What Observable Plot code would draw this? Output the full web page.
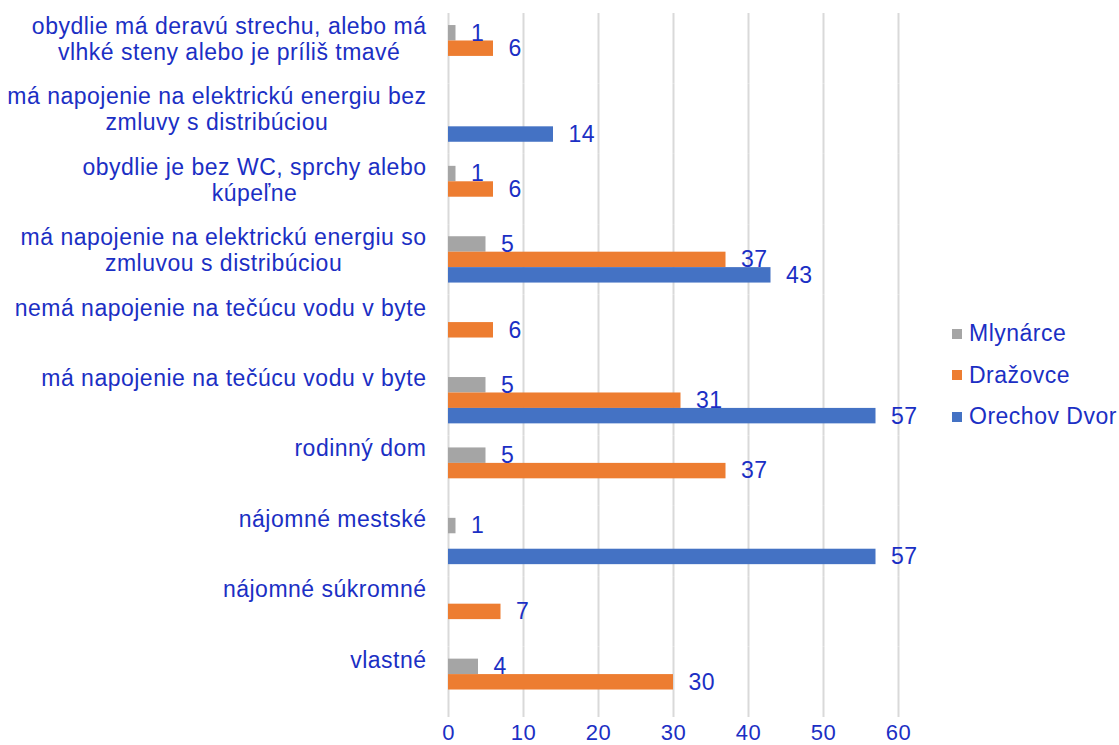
<!DOCTYPE html>
<html><head><meta charset="utf-8">
<script src="https://cdn.jsdelivr.net/npm/d3@7"></script>
<script src="https://cdn.jsdelivr.net/npm/@observablehq/plot@0.6"></script>
<style>
body{margin:0;background:#fff;}
#wrap{position:relative;width:1119px;height:745px;overflow:hidden;font-family:"Liberation Sans",Arial,sans-serif;}
#legend{position:absolute;left:952px;top:313px;}
.item{display:flex;align-items:center;height:41.5px;font-size:23px;letter-spacing:0.5px;color:#1b2fc4;white-space:nowrap;}
.sw{width:10px;height:10px;margin-right:7px;flex:none;}
</style></head><body><div id="wrap"></div>
<script>
const categories = [
  "obydlie má deravú strechu, alebo má vlhké steny alebo je príliš tmavé",
  "má napojenie na elektrickú energiu bez zmluvy s distribúciou",
  "obydlie je bez WC, sprchy alebo kúpeľne",
  "má napojenie na elektrickú energiu so zmluvou s distribúciou",
  "nemá napojenie na tečúcu vodu v byte",
  "má napojenie na tečúcu vodu v byte",
  "rodinný dom",
  "nájomné mestské",
  "nájomné súkromné",
  "vlastné"
];
const categoryLabels = [
  "obydlie má deravú strechu, alebo má\nvlhké steny alebo je príliš tmavé",
  "má napojenie na elektrickú energiu bez\nzmluvy s distribúciou",
  "obydlie je bez WC, sprchy alebo\nkúpeľne",
  "má napojenie na elektrickú energiu so\nzmluvou s distribúciou",
  "nemá napojenie na tečúcu vodu v byte",
  "má napojenie na tečúcu vodu v byte",
  "rodinný dom",
  "nájomné mestské",
  "nájomné súkromné",
  "vlastné"
];
const series = ["Mlynárce", "Dražovce", "Orechov Dvor"];
const mlynarce    = [1, 0, 1, 5, 0, 5, 5, 1, 0, 4];
const drazovce    = [6, 0, 6, 37, 6, 31, 37, 0, 7, 30];
const orechovDvor = [0, 14, 0, 43, 0, 57, 0, 57, 0, 0];
const xTicks = [0, 10, 20, 30, 40, 50, 60];
const colors = ["#a5a5a5", "#ed7d31", "#4472c4"];

const textColor = "#1b2fc4";
const fs = 23;
const ls = 0.5;
const seriesValues = [mlynarce, drazovce, orechovDvor];
const rows = [];
categories.forEach((c, i) => series.forEach((s, j) => {
  const v = seriesValues[j][i];
  if (v > 0) rows.push({category: c, series: s, value: v});
}));

const ctx = document.createElement("canvas").getContext("2d");
ctx.font = `${fs}px "Liberation Sans"`;
const labelMarks = categories.map((c, i) => {
  const lines = categoryLabels[i].split("\n");
  const w = Math.max(...lines.map(l => ctx.measureText(l).width + ls * l.length));
  return Plot.text([{category: c, label: categoryLabels[i]}], {
    fy: "category", text: "label", frameAnchor: "left",
    textAnchor: "middle", dx: -22 - w / 2, dy: -33,
    lineAnchor: "top", lineHeight: 1.12, fontSize: fs, fill: textColor
  });
});

const chart = Plot.plot({
  width: 1119, height: 745,
  marginLeft: 448, marginRight: 221, marginTop: 13, marginBottom: 28,
  style: {fontFamily: '"Liberation Sans", Arial, sans-serif', background: "#fff", letterSpacing: ls + "px"},
  x: {domain: [0, 60]},
  fy: {domain: categories, padding: 0, axis: null, round: false},
  y: {domain: series, paddingInner: 0, paddingOuter: 0.78, axis: null, round: false},
  color: {domain: series, range: colors},
  marks: [
    Plot.gridX(xTicks, {stroke: "#d9d9d9", strokeOpacity: 1, strokeWidth: 2}),
    Plot.axisX(xTicks, {anchor: "bottom", tickSize: 0, tickPadding: 7, fontSize: 22, fill: textColor, label: null}),
    Plot.barX(rows, {fy: "category", y: "series", x: "value", fill: "series"}),
    Plot.text(rows, {fy: "category", y: "series", x: "value", text: "value", dx: 15, textAnchor: "start", fontSize: fs, fill: textColor}),
    ...labelMarks
  ]
});
const wrap = document.getElementById("wrap");
chart.style.position = "absolute"; chart.style.left = "0"; chart.style.top = "0";
wrap.appendChild(chart);

const legend = document.createElement("div");
legend.id = "legend";
series.forEach((s, j) => {
  const it = document.createElement("div"); it.className = "item";
  const sw = document.createElement("span"); sw.className = "sw"; sw.style.background = colors[j];
  const t = document.createElement("span"); t.textContent = s;
  it.appendChild(sw); it.appendChild(t); legend.appendChild(it);
});
wrap.appendChild(legend);
</script></body></html>
